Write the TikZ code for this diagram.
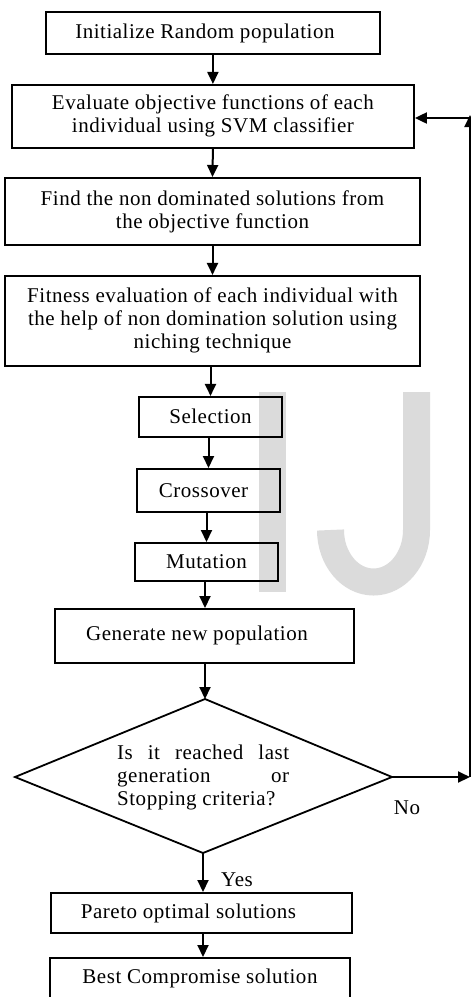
\documentclass[tikz,border=0pt]{standalone}
\usepackage{fontspec}
\setmainfont{Liberation Serif}[LetterSpace=2.5]
\usetikzlibrary{arrows.meta}
\begin{document}
\begin{tikzpicture}[x=1pt,y=-1pt,
  txt/.style={font=\fontsize{21}{23}\selectfont, text=black},
  box/.style={draw, line width=2pt, inner sep=0pt, align=center, txt},
  flow/.style={line width=2pt, -{Triangle[width=11pt,length=12pt]}}]
\useasboundingbox (0,0) rectangle (471,997);
% watermark
\fill[black!14] (259,392) rectangle (286,592);
\draw[black!14, line width=27pt] (416.5,392) -- (416.5,530) arc[start angle=0, end angle=180, x radius=43, y radius=52];
% boxes
\node[box, minimum width=334pt, minimum height=42.6pt] (b1) at (212.9,33) {\raisebox{-2pt}{Initialize Random population\hspace*{16pt}}};
\node[box, minimum width=402pt, minimum height=62.7pt] (b2) at (212.9,116.3) {Evaluate objective functions of each\\individual using SVM classifier};
\node[box, minimum width=415pt, minimum height=67pt] (b3) at (212.5,211.5) {Find the non dominated solutions from\\the objective function};
\node[box, minimum width=415pt, minimum height=89.7pt] (b4) at (212.5,320.8) {Fitness evaluation of each individual with\\the help of non domination solution using\\niching technique};
\node[box, minimum width=143pt, minimum height=39.7pt] (b5) at (210.5,416.8) {Selection};
\node[box, minimum width=143pt, minimum height=43pt] (b6) at (208.5,490.5) {Crossover\hspace*{10pt}};
\node[box, minimum width=143pt, minimum height=38pt] (b7) at (206.5,562) {Mutation};
\node[box, minimum width=299pt, minimum height=54pt] (b8) at (204.5,636) {\raisebox{5pt}{Generate new population\hspace*{15pt}}};
% decision
\coordinate (dt) at (205,699);
\coordinate (dl) at (15,777);
\coordinate (dr) at (392,777);
\coordinate (db) at (203,853);
\draw[line width=1.8pt, line join=miter] (dt) -- (dr) -- (db) -- (dl) -- cycle;
\node[txt, align=left, inner sep=0pt, anchor=north west] (dq) at (117,745) {\makebox[172pt][s]{Is it reached last}\\\makebox[172pt][s]{generation or}\\Stopping criteria?};
\node[box, minimum width=301pt, minimum height=40pt] (p) at (201.5,913) {Pareto optimal solutions\hspace*{26pt}};
\node[box, minimum width=300pt, minimum height=40pt] (q) at (200,978) {Best Compromise solution};
% connectors
\draw[flow] (b1.south) -- (b2.north);
\draw[flow] (b2.south) -- (b3.north);
\draw[flow] (b3.south) -- (b4.north);
\draw[flow] (b5.north |- b4.south) -- (b5.north);
\draw[flow] (b6.north |- b5.south) -- (b6.north);
\draw[flow] (b7.north |- b6.south) -- (b7.north);
\draw[flow] (dt |- b7.south) -- (dt |- b8.north);
\draw[flow] (dt |- b8.south) -- (dt);
\draw[flow] (db) -- (db |- p.north);
\draw[flow] (db |- p.south) -- (db |- q.north);
\coordinate (c1) at (470,777);
\coordinate (c2) at (470,118);
\draw[flow] (dr) -- (c1);
\draw[flow] (c1) -- ([yshift=3pt]c2);
\draw[flow] (c2) -- (c2 -| b2.east);
\node[txt, inner sep=0pt] (no) at (407,808) {No};
\node[txt, inner sep=0pt] (yes) at (237,880) {Yes};
\end{tikzpicture}
\end{document}
